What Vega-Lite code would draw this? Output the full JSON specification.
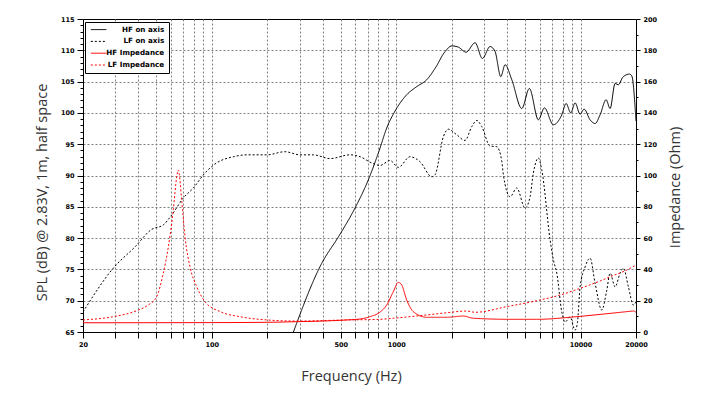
{
  "$schema": "https://vega.github.io/schema/vega-lite/v6.json",
  "width": 553,
  "height": 313,
  "autosize": {"type": "none"},
  "padding": {"left": 83, "top": 19, "right": 85, "bottom": 66},
  "background": "white",
  "config": {
    "view": {"stroke": "black", "strokeWidth": 1},
    "axis": {
      "domainColor": "black",
      "tickColor": "black",
      "labelColor": "black",
      "labelFont": "DejaVu Sans",
      "labelFontSize": 6.5,
      "labelFontWeight": "bold",
      "titleFont": "Open Sans",
      "titleFontSize": 14.5,
      "titleFontWeight": "normal",
      "titleColor": "#333333"
    },
    "legend": {
      "title": null,
      "orient": "none",
      "legendX": 2,
      "legendY": 3,
      "fillColor": "white",
      "strokeColor": "black",
      "padding": 4,
      "rowPadding": 3.8,
      "symbolType": "M-3.1,0L3.1,0",
      "symbolSize": 25,
      "symbolOffset": 6,
      "symbolStrokeWidth": 1,
      "labelAlign": "right",
      "labelOffset": 62,
      "labelFont": "DejaVu Sans",
      "labelFontSize": 7.2,
      "labelFontWeight": "bold",
      "labelColor": "black"
    }
  },
  "datasets": {
    "spl": [
      {"f": 277, "v": 65.0, "s": "HF on axis"},
      {"f": 395, "v": 76.0, "s": "HF on axis"},
      {"f": 486, "v": 80.2, "s": "HF on axis"},
      {"f": 598, "v": 84.8, "s": "HF on axis"},
      {"f": 706, "v": 89.3, "s": "HF on axis"},
      {"f": 807, "v": 93.9, "s": "HF on axis"},
      {"f": 889, "v": 97.6, "s": "HF on axis"},
      {"f": 986, "v": 100.3, "s": "HF on axis"},
      {"f": 1141, "v": 102.9, "s": "HF on axis"},
      {"f": 1293, "v": 104.2, "s": "HF on axis"},
      {"f": 1465, "v": 105.3, "s": "HF on axis"},
      {"f": 1625, "v": 107.1, "s": "HF on axis"},
      {"f": 1842, "v": 109.8, "s": "HF on axis"},
      {"f": 2002, "v": 110.7, "s": "HF on axis"},
      {"f": 2175, "v": 110.5, "s": "HF on axis"},
      {"f": 2394, "v": 109.7, "s": "HF on axis"},
      {"f": 2680, "v": 111.2, "s": "HF on axis"},
      {"f": 2936, "v": 108.7, "s": "HF on axis"},
      {"f": 3232, "v": 110.6, "s": "HF on axis"},
      {"f": 3440, "v": 109.8, "s": "HF on axis"},
      {"f": 3694, "v": 105.8, "s": "HF on axis"},
      {"f": 3898, "v": 107.7, "s": "HF on axis"},
      {"f": 4238, "v": 105.3, "s": "HF on axis"},
      {"f": 4802, "v": 100.7, "s": "HF on axis"},
      {"f": 5280, "v": 103.9, "s": "HF on axis"},
      {"f": 5908, "v": 98.9, "s": "HF on axis"},
      {"f": 6368, "v": 100.8, "s": "HF on axis"},
      {"f": 7126, "v": 98.1, "s": "HF on axis"},
      {"f": 7916, "v": 99.7, "s": "HF on axis"},
      {"f": 8352, "v": 101.5, "s": "HF on axis"},
      {"f": 8856, "v": 100.0, "s": "HF on axis"},
      {"f": 9346, "v": 101.6, "s": "HF on axis"},
      {"f": 9947, "v": 99.8, "s": "HF on axis"},
      {"f": 10458, "v": 100.6, "s": "HF on axis"},
      {"f": 11272, "v": 98.9, "s": "HF on axis"},
      {"f": 11998, "v": 98.3, "s": "HF on axis"},
      {"f": 12772, "v": 99.7, "s": "HF on axis"},
      {"f": 13768, "v": 102.1, "s": "HF on axis"},
      {"f": 14472, "v": 100.7, "s": "HF on axis"},
      {"f": 15404, "v": 104.7, "s": "HF on axis"},
      {"f": 16052, "v": 104.5, "s": "HF on axis"},
      {"f": 16962, "v": 105.7, "s": "HF on axis"},
      {"f": 18418, "v": 106.2, "s": "HF on axis"},
      {"f": 18980, "v": 105.9, "s": "HF on axis"},
      {"f": 20000, "v": 98.7, "s": "HF on axis"},

      {"f": 20, "v": 68.2, "s": "LF on axis"},
      {"f": 29.2, "v": 75.2, "s": "LF on axis"},
      {"f": 38.3, "v": 78.6, "s": "LF on axis"},
      {"f": 47.2, "v": 81.4, "s": "LF on axis"},
      {"f": 54.5, "v": 82.1, "s": "LF on axis"},
      {"f": 60.6, "v": 83.7, "s": "LF on axis"},
      {"f": 70.0, "v": 86.4, "s": "LF on axis"},
      {"f": 79.3, "v": 88.0, "s": "LF on axis"},
      {"f": 91.8, "v": 90.4, "s": "LF on axis"},
      {"f": 106, "v": 92.0, "s": "LF on axis"},
      {"f": 131, "v": 93.0, "s": "LF on axis"},
      {"f": 155, "v": 93.3, "s": "LF on axis"},
      {"f": 199, "v": 93.3, "s": "LF on axis"},
      {"f": 249, "v": 93.8, "s": "LF on axis"},
      {"f": 301, "v": 93.3, "s": "LF on axis"},
      {"f": 355, "v": 93.3, "s": "LF on axis"},
      {"f": 438, "v": 92.7, "s": "LF on axis"},
      {"f": 562, "v": 93.3, "s": "LF on axis"},
      {"f": 637, "v": 93.0, "s": "LF on axis"},
      {"f": 737, "v": 92.0, "s": "LF on axis"},
      {"f": 817, "v": 91.6, "s": "LF on axis"},
      {"f": 926, "v": 92.4, "s": "LF on axis"},
      {"f": 1028, "v": 91.3, "s": "LF on axis"},
      {"f": 1189, "v": 93.0, "s": "LF on axis"},
      {"f": 1347, "v": 92.2, "s": "LF on axis"},
      {"f": 1560, "v": 89.8, "s": "LF on axis"},
      {"f": 1625, "v": 90.1, "s": "LF on axis"},
      {"f": 1803, "v": 96.2, "s": "LF on axis"},
      {"f": 1919, "v": 97.4, "s": "LF on axis"},
      {"f": 2132, "v": 96.5, "s": "LF on axis"},
      {"f": 2364, "v": 95.6, "s": "LF on axis"},
      {"f": 2570, "v": 97.8, "s": "LF on axis"},
      {"f": 2738, "v": 98.8, "s": "LF on axis"},
      {"f": 2914, "v": 97.8, "s": "LF on axis"},
      {"f": 3232, "v": 94.7, "s": "LF on axis"},
      {"f": 3514, "v": 94.6, "s": "LF on axis"},
      {"f": 3740, "v": 92.3, "s": "LF on axis"},
      {"f": 3816, "v": 90.1, "s": "LF on axis"},
      {"f": 4150, "v": 86.6, "s": "LF on axis"},
      {"f": 4510, "v": 88.0, "s": "LF on axis"},
      {"f": 5004, "v": 84.8, "s": "LF on axis"},
      {"f": 5326, "v": 86.6, "s": "LF on axis"},
      {"f": 5550, "v": 90.4, "s": "LF on axis"},
      {"f": 5908, "v": 92.8, "s": "LF on axis"},
      {"f": 6164, "v": 90.9, "s": "LF on axis"},
      {"f": 6840, "v": 79.7, "s": "LF on axis"},
      {"f": 7126, "v": 76.5, "s": "LF on axis"},
      {"f": 7436, "v": 74.4, "s": "LF on axis"},
      {"f": 7916, "v": 68.2, "s": "LF on axis"},
      {"f": 8250, "v": 66.6, "s": "LF on axis"},
      {"f": 8778, "v": 67.4, "s": "LF on axis"},
      {"f": 9346, "v": 65.3, "s": "LF on axis"},
      {"f": 9616, "v": 66.4, "s": "LF on axis"},
      {"f": 9948, "v": 72.2, "s": "LF on axis"},
      {"f": 10590, "v": 75.4, "s": "LF on axis"},
      {"f": 11272, "v": 76.8, "s": "LF on axis"},
      {"f": 11998, "v": 72.8, "s": "LF on axis"},
      {"f": 13046, "v": 68.5, "s": "LF on axis"},
      {"f": 13888, "v": 71.7, "s": "LF on axis"},
      {"f": 14472, "v": 74.4, "s": "LF on axis"},
      {"f": 15404, "v": 72.2, "s": "LF on axis"},
      {"f": 16396, "v": 74.4, "s": "LF on axis"},
      {"f": 17086, "v": 75.2, "s": "LF on axis"},
      {"f": 18190, "v": 72.2, "s": "LF on axis"},
      {"f": 19362, "v": 69.3, "s": "LF on axis"},
      {"f": 20000, "v": 69.8, "s": "LF on axis"}
    ],
    "imp": [
      {"f": 20, "v": 5.9, "s": "HF Impedance"},
      {"f": 100, "v": 6.0, "s": "HF Impedance"},
      {"f": 200, "v": 6.2, "s": "HF Impedance"},
      {"f": 289, "v": 6.6, "s": "HF Impedance"},
      {"f": 400, "v": 7.0, "s": "HF Impedance"},
      {"f": 539, "v": 7.7, "s": "HF Impedance"},
      {"f": 637, "v": 8.3, "s": "HF Impedance"},
      {"f": 721, "v": 9.8, "s": "HF Impedance"},
      {"f": 817, "v": 12.7, "s": "HF Impedance"},
      {"f": 889, "v": 17.3, "s": "HF Impedance"},
      {"f": 965, "v": 25.8, "s": "HF Impedance"},
      {"f": 1028, "v": 31.7, "s": "HF Impedance"},
      {"f": 1072, "v": 30.0, "s": "HF Impedance"},
      {"f": 1141, "v": 20.4, "s": "HF Impedance"},
      {"f": 1239, "v": 13.0, "s": "HF Impedance"},
      {"f": 1465, "v": 9.4, "s": "HF Impedance"},
      {"f": 1881, "v": 9.4, "s": "HF Impedance"},
      {"f": 2314, "v": 10.2, "s": "HF Impedance"},
      {"f": 2624, "v": 8.8, "s": "HF Impedance"},
      {"f": 4150, "v": 8.1, "s": "HF Impedance"},
      {"f": 5792, "v": 8.1, "s": "HF Impedance"},
      {"f": 9546, "v": 9.8, "s": "HF Impedance"},
      {"f": 14472, "v": 11.9, "s": "HF Impedance"},
      {"f": 17830, "v": 13.0, "s": "HF Impedance"},
      {"f": 19362, "v": 13.4, "s": "HF Impedance"},
      {"f": 20000, "v": 12.6, "s": "HF Impedance"},

      {"f": 20, "v": 7.7, "s": "LF Impedance"},
      {"f": 30.5, "v": 10.2, "s": "LF Impedance"},
      {"f": 39.1, "v": 13.6, "s": "LF Impedance"},
      {"f": 45.2, "v": 17.3, "s": "LF Impedance"},
      {"f": 50.2, "v": 22.5, "s": "LF Impedance"},
      {"f": 54.5, "v": 37.5, "s": "LF Impedance"},
      {"f": 58.1, "v": 54.5, "s": "LF Impedance"},
      {"f": 61.8, "v": 78.0, "s": "LF Impedance"},
      {"f": 64.5, "v": 99.2, "s": "LF Impedance"},
      {"f": 65.8, "v": 103.5, "s": "LF Impedance"},
      {"f": 68.6, "v": 84.3, "s": "LF Impedance"},
      {"f": 71.5, "v": 60.9, "s": "LF Impedance"},
      {"f": 76.1, "v": 41.7, "s": "LF Impedance"},
      {"f": 82.8, "v": 28.9, "s": "LF Impedance"},
      {"f": 91.8, "v": 19.4, "s": "LF Impedance"},
      {"f": 111, "v": 13.0, "s": "LF Impedance"},
      {"f": 142, "v": 9.8, "s": "LF Impedance"},
      {"f": 199, "v": 7.7, "s": "LF Impedance"},
      {"f": 289, "v": 7.0, "s": "LF Impedance"},
      {"f": 539, "v": 7.7, "s": "LF Impedance"},
      {"f": 817, "v": 8.1, "s": "LF Impedance"},
      {"f": 965, "v": 8.8, "s": "LF Impedance"},
      {"f": 1465, "v": 10.9, "s": "LF Impedance"},
      {"f": 1881, "v": 12.3, "s": "LF Impedance"},
      {"f": 2415, "v": 13.4, "s": "LF Impedance"},
      {"f": 2680, "v": 12.6, "s": "LF Impedance"},
      {"f": 3982, "v": 16.2, "s": "LF Impedance"},
      {"f": 5792, "v": 20.0, "s": "LF Impedance"},
      {"f": 7750, "v": 23.6, "s": "LF Impedance"},
      {"f": 9948, "v": 27.9, "s": "LF Impedance"},
      {"f": 12772, "v": 32.6, "s": "LF Impedance"},
      {"f": 14472, "v": 35.3, "s": "LF Impedance"},
      {"f": 17830, "v": 39.6, "s": "LF Impedance"},
      {"f": 20000, "v": 42.8, "s": "LF Impedance"}
    ]
  },
  "layer": [
    {
      "data": {"name": "spl"},
      "mark": {"type": "line", "strokeWidth": 1, "clip": true, "interpolate": "monotone"},
      "encoding": {
        "x": {
          "field": "f",
          "type": "quantitative",
          "scale": {"type": "log", "domain": [20, 20000], "nice": false},
          "axis": {
            "values": [20, 30, 40, 50, 60, 70, 80, 90, 100, 200, 300, 400, 500, 600, 700, 800, 900, 1000, 2000, 3000, 4000, 5000, 6000, 7000, 8000, 9000, 10000, 20000],
            "format": "d",
            "labelExpr": "indexof([20, 100, 500, 1000, 10000, 20000], datum.value) >= 0 ? datum.label : ''",
            "labelFlush": false,
            "labelOverlap": false,
            "labelPadding": 3,
            "tickSize": 6,
            "grid": true,
            "gridColor": "#808080",
            "gridDash": [2, 2],
            "title": "Frequency (Hz)",
            "titleX": 268,
            "titleY": 44,
            "titleAlign": "center",
            "titleBaseline": "middle"
          }
        },
        "y": {
          "field": "v",
          "type": "quantitative",
          "scale": {"domain": [65, 115], "nice": false, "zero": false},
          "axis": {
            "orient": "left",
            "values": [65, 66, 67, 68, 69, 70, 71, 72, 73, 74, 75, 76, 77, 78, 79, 80, 81, 82, 83, 84, 85, 86, 87, 88, 89, 90, 91, 92, 93, 94, 95, 96, 97, 98, 99, 100, 101, 102, 103, 104, 105, 106, 107, 108, 109, 110, 111, 112, 113, 114, 115],
            "labelExpr": "datum.value % 5 === 0 ? datum.label : ''",
            "labelOverlap": false,
            "labelFlush": false,
            "labelPadding": 3,
            "tickSize": {"condition": {"test": "datum.value % 5 === 0", "value": 6}, "value": 3},
            "grid": true,
            "gridColor": "#808080",
            "gridDash": [2, 2],
            "gridOpacity": {"condition": {"test": "datum.value % 5 === 0 && datum.value > 65 && datum.value < 115", "value": 1}, "value": 0},
            "title": "SPL (dB) @ 2.83V, 1m, half space",
            "titleAngle": -90,
            "titleX": -41,
            "titleY": 173,
            "titleAlign": "center",
            "titleBaseline": "middle"
          }
        },
        "color": {
          "field": "s",
          "type": "nominal",
          "scale": {
            "domain": ["HF on axis", "LF on axis", "HF Impedance", "LF Impedance"],
            "range": ["#000000", "#000000", "#ff0000", "#ff0000"]
          }
        },
        "strokeDash": {
          "field": "s",
          "type": "nominal",
          "scale": {
            "domain": ["HF on axis", "LF on axis", "HF Impedance", "LF Impedance"],
            "range": [[1, 0], [2, 2], [1, 0], [2, 2]]
          }
        }
      }
    },
    {
      "data": {"name": "imp"},
      "mark": {"type": "line", "strokeWidth": 1, "clip": true, "interpolate": "monotone"},
      "encoding": {
        "x": {
          "field": "f",
          "type": "quantitative",
          "scale": {"type": "log", "domain": [20, 20000], "nice": false}
        },
        "y": {
          "field": "v",
          "type": "quantitative",
          "scale": {"domain": [0, 200], "nice": false},
          "axis": {
            "orient": "right",
            "values": [0, 10, 20, 30, 40, 50, 60, 70, 80, 90, 100, 110, 120, 130, 140, 150, 160, 170, 180, 190, 200],
            "labelExpr": "datum.value % 20 === 0 ? datum.label : ''",
            "labelOverlap": false,
            "labelFlush": false,
            "labelPadding": 3,
            "tickSize": {"condition": {"test": "datum.value % 20 === 0", "value": 4}, "value": 2},
            "grid": false,
            "title": "Impedance (Ohm)",
            "titleAngle": -90,
            "titleX": 39,
            "titleY": 168,
            "titleAlign": "center",
            "titleBaseline": "middle"
          }
        },
        "color": {
          "field": "s",
          "type": "nominal",
          "scale": {
            "domain": ["HF on axis", "LF on axis", "HF Impedance", "LF Impedance"],
            "range": ["#000000", "#000000", "#ff0000", "#ff0000"]
          }
        },
        "strokeDash": {
          "field": "s",
          "type": "nominal",
          "scale": {
            "domain": ["HF on axis", "LF on axis", "HF Impedance", "LF Impedance"],
            "range": [[1, 0], [2, 2], [1, 0], [2, 2]]
          }
        }
      }
    }
  ],
  "resolve": {"scale": {"y": "independent"}}
}
